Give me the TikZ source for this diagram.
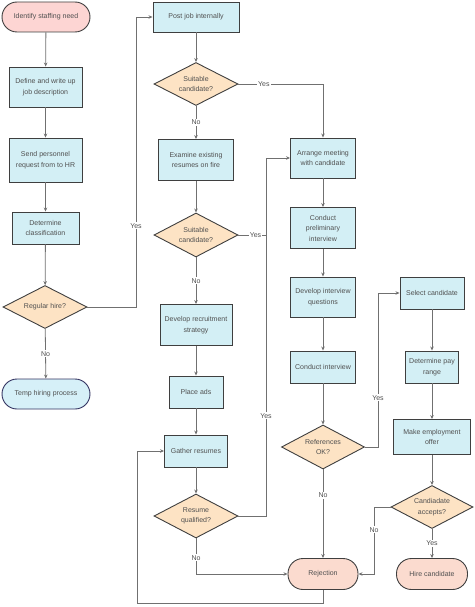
\documentclass[tikz,border=0pt]{standalone}
\usepackage{fontspec}
\setmainfont{Liberation Sans}
\usetikzlibrary{shapes.geometric,arrows.meta}
\definecolor{procfill}{HTML}{D3EFF5}
\definecolor{decfill}{HTML}{FDE3C4}
\definecolor{startfill}{HTML}{FDD5D3}
\definecolor{endfill}{HTML}{FBDBCF}
\definecolor{tempfill}{HTML}{D6F0F8}
\definecolor{edgecol}{HTML}{3F3F3F}
\definecolor{linecol}{HTML}{707070}
\definecolor{txtcol}{HTML}{505050}
\tikzset{
  base/.style={draw=edgecol, line width=0.9pt, text=txtcol, align=center,
    font=\fontsize{7}{10.5}\selectfont, inner sep=0pt},
  proc/.style={base, rectangle, fill=procfill},
  dec/.style={base, diamond, fill=decfill, shape aspect=2},
  term/.style={base, rectangle, rounded corners=15pt, fill=endfill},
  conn/.style={draw=linecol, line width=0.8pt},
  arr/.style={conn, -{Stealth[length=4pt,width=3.5pt]}},
  lbl/.style={fill=white, text=txtcol, font=\fontsize{7}{8}\selectfont, inner sep=1pt}
}
\begin{document}
\begin{tikzpicture}[x=1pt,y=-1pt]
\useasboundingbox (0,0) rectangle (474,607);
% column 1
\node[term, fill=startfill, minimum width=88pt, minimum height=30pt] (identify) at (46,17) {Identify staffing need};
\node[proc, minimum width=73pt, minimum height=40pt] (define) at (45.5,87) {Define and write up\\job description};
\node[proc, minimum width=73pt, minimum height=44pt] (send) at (45.5,160) {Send personnel\\request from to HR};
\node[proc, minimum width=67pt, minimum height=32pt] (classify) at (45.5,228) {Determine\\classification};
\node[dec, minimum width=84pt, minimum height=43pt] (regular) at (45,307) {Regular hire?};
\node[term, fill=tempfill, draw=black!70!blue!60!gray, minimum width=88pt, minimum height=30pt] (temp) at (46,394) {Temp hiring process};
% column 2
\node[proc, minimum width=86pt, minimum height=30pt] (post) at (196,17) {Post job internally};
\node[dec, minimum width=84pt, minimum height=43pt] (suit1) at (196,84) {Suitable\\candidate?};
\node[proc, minimum width=75pt, minimum height=41pt] (examine) at (196,160) {Examine existing\\resumes on fire};
\node[dec, minimum width=84pt, minimum height=44pt] (suit2) at (196,235) {Suitable\\candidate?};
\node[proc, minimum width=72pt, minimum height=41pt] (devrec) at (196,325) {Develop recruitment\\strategy};
\node[proc, minimum width=54pt, minimum height=32pt] (ads) at (196,392) {Place ads};
\node[proc, minimum width=63pt, minimum height=32pt] (gather) at (196,451) {Gather resumes};
\node[dec, minimum width=84pt, minimum height=44pt] (resq) at (196,516) {Resume\\qualified?};
% column 3
\node[proc, minimum width=65pt, minimum height=40pt] (arrange) at (323,158) {Arrange meeting\\with candidate};
\node[proc, minimum width=65pt, minimum height=41pt] (prelim) at (323,228) {Conduct\\preliminary\\interview};
\node[proc, minimum width=65pt, minimum height=40pt] (devq) at (323,297) {Develop interview\\questions};
\node[proc, minimum width=65pt, minimum height=32pt] (interview) at (323,367) {Conduct interview};
\node[dec, minimum width=83pt, minimum height=44pt] (refs) at (323,447) {References\\OK?};
\node[term, minimum width=70pt, minimum height=31pt] (reject) at (323,574) {Rejection};
% column 4
\node[proc, minimum width=64pt, minimum height=32pt] (select) at (432,293) {Select candidate};
\node[proc, minimum width=53pt, minimum height=32pt] (pay) at (432,367) {Determine pay\\range};
\node[proc, minimum width=77pt, minimum height=35pt] (offer) at (432,437) {Make employment\\offer};
\node[dec, minimum width=82pt, minimum height=43pt] (accepts) at (432,507) {Candiadate\\accepts?};
\node[term, minimum width=71pt, minimum height=31pt] (hire) at (432,574) {Hire candidate};
% column 1 connectors
\draw[arr] (identify) -- (define);
\draw[arr] (define) -- (send);
\draw[arr] (send) -- (classify);
\draw[arr] (classify) -- (regular);
\draw[arr] (regular) -- node[lbl, pos=0.5] {No} (temp);
\draw[arr] (regular.east) -- (136,307) |- node[lbl, pos=0.14] {Yes} (post.west);
% column 2 connectors
\draw[arr] (post) -- (suit1);
\draw[arr] (suit1) -- node[lbl] {No} (examine);
\draw[arr] (suit1.east) -| node[lbl, pos=0.15] {Yes} (arrange.north);
\draw[arr] (examine) -- (suit2);
\draw[arr] (suit2) -- node[lbl] {No} (devrec);
\draw[conn] (suit2.east) -- node[lbl, pos=0.62] {Yes} (266,235);
\draw[arr] (devrec) -- (ads);
\draw[arr] (ads) -- (gather);
\draw[arr] (gather) -- (resq);
\draw[arr] (resq.east) -- (266,516) |- node[lbl, pos=0.14] {Yes} (arrange.west);
\draw[arr] (resq.south) |- node[lbl, pos=0.27] {No} (reject.west);
\draw[arr] (reject.south) |- (137,603) |- (gather.west);
% column 3 connectors
\draw[arr] (arrange) -- (prelim);
\draw[arr] (prelim) -- (devq);
\draw[arr] (devq) -- (interview);
\draw[arr] (interview) -- (refs);
\draw[arr] (refs) -- node[lbl, pos=0.29] {No} (reject);
\draw[arr] (refs.east) -- (378,447) |- node[lbl, pos=0.16] {Yes} (select.west);
% column 4 connectors
\draw[arr] (select) -- (pay);
\draw[arr] (pay) -- (offer);
\draw[arr] (offer) -- (accepts);
\draw[arr] (accepts) -- node[lbl] {Yes} (hire);
\draw[arr] (accepts.west) -- (374,507) |- node[lbl, pos=0.17] {No} (reject.east);
\end{tikzpicture}
\end{document}
